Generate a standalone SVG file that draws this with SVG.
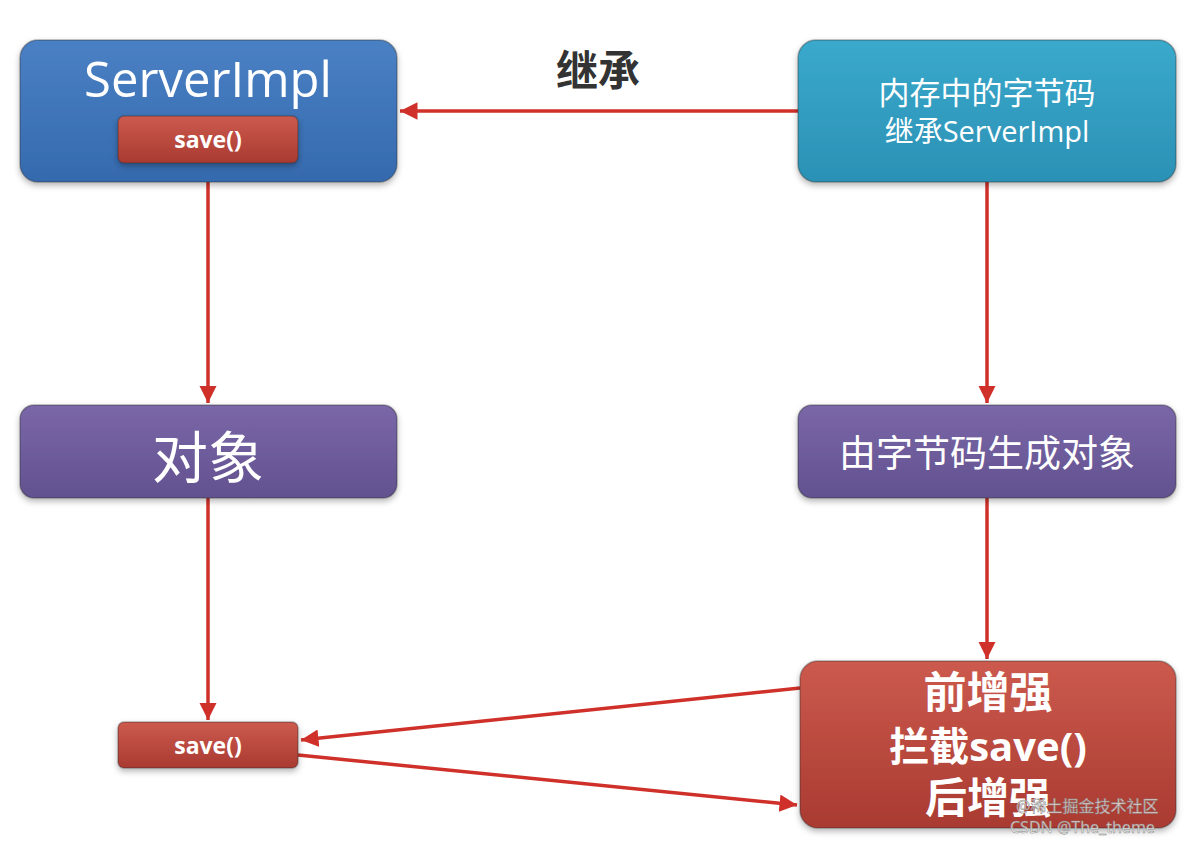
<svg xmlns="http://www.w3.org/2000/svg" width="1199" height="843" viewBox="0 0 1199 843">
<defs>
<linearGradient id="gBlue" x1="0" y1="0" x2="0" y2="1"><stop offset="0" stop-color="#4a80c4"/><stop offset="1" stop-color="#356aae"/></linearGradient>
<linearGradient id="gTeal" x1="0" y1="0" x2="0" y2="1"><stop offset="0" stop-color="#3aa9cc"/><stop offset="1" stop-color="#2b91b5"/></linearGradient>
<linearGradient id="gPurple" x1="0" y1="0" x2="0" y2="1"><stop offset="0" stop-color="#7a67a8"/><stop offset="1" stop-color="#62518f"/></linearGradient>
<linearGradient id="gRed" x1="0" y1="0" x2="0" y2="1"><stop offset="0" stop-color="#cc5a4e"/><stop offset="1" stop-color="#a93a31"/></linearGradient>
<filter id="sh" x="-10%" y="-10%" width="120%" height="130%"><feDropShadow dx="0" dy="3" stdDeviation="3" flood-color="#000" flood-opacity="0.3"/></filter>
<marker id="ah" viewBox="0 0 10 10" refX="10" refY="5" markerWidth="5" markerHeight="5" orient="auto" markerUnits="strokeWidth"><path d="M0,0 L10,5 L0,10 z" fill="#d0302a"/></marker>
</defs>
<style>
.box{stroke:#2a2a2a;stroke-opacity:0.35;stroke-width:1.5;filter:url(#sh)}
.t{fill:#fff;text-anchor:middle;font-family:"Open Sans","Noto Sans","Noto Sans CJK SC",sans-serif}
.b{font-weight:bold}
.c{fill:none;stroke:#d0302a;stroke-width:3.5;marker-end:url(#ah)}
</style>
<rect width="1199" height="843" fill="#fff"/>
<g id="connectors">
<line class="c" x1="798" y1="111" x2="400" y2="111"/>
<line class="c" x1="208" y1="182" x2="208" y2="403"/>
<line class="c" x1="987" y1="182" x2="987" y2="403"/>
<line class="c" x1="208" y1="498" x2="208" y2="720"/>
<line class="c" x1="987" y1="498" x2="987" y2="659"/>
<line class="c" x1="800" y1="688" x2="301" y2="740"/>
<line class="c" x1="298" y1="755" x2="797" y2="805"/>
</g>
<g id="label-inherit"><text x="598" y="86" text-anchor="middle" font-family="'Noto Sans CJK SC',sans-serif" font-weight="bold" font-size="42" fill="#333">继承</text></g>
<g id="serverimpl">
<rect class="box" x="20" y="40" width="377" height="142" rx="18" fill="url(#gBlue)"/>
<text class="t" x="208" y="97" font-size="49">ServerImpl</text>
<rect class="box" x="118" y="116" width="180" height="47" rx="6" fill="url(#gRed)"/>
<text class="t b" x="208" y="148" font-size="23">save()</text>
</g>
<g id="bytecode">
<rect class="box" x="798" y="40" width="378" height="142" rx="18" fill="url(#gTeal)"/>
<text class="t" x="987" y="104" font-size="31">内存中的字节码</text>
<text class="t" x="987" y="142" font-size="29">继承ServerImpl</text>
</g>
<g id="object">
<rect class="box" x="20" y="405" width="377" height="93" rx="14" fill="url(#gPurple)"/>
<text class="t" x="208" y="478" font-size="56">对象</text>
</g>
<g id="genobject">
<rect class="box" x="798" y="405" width="378" height="93" rx="14" fill="url(#gPurple)"/>
<text class="t" x="987" y="467" font-size="37">由字节码生成对象</text>
</g>
<g id="save2">
<rect class="box" x="118" y="722" width="180" height="46" rx="6" fill="url(#gRed)"/>
<text class="t b" x="208" y="754" font-size="23">save()</text>
</g>
<g id="enhance">
<rect class="box" x="800" y="661" width="376" height="167" rx="18" fill="url(#gRed)"/>
<text class="t b" x="988" y="708" font-size="43">前增强</text>
<text class="t b" x="988" y="761" font-size="40">拦截save()</text>
<text class="t b" x="988" y="813" font-size="42">后增强</text>
</g>
<g id="watermark" font-family="'Noto Sans','Noto Sans CJK SC',sans-serif" font-size="16" fill="#ffffff" fill-opacity="0.75" stroke="#888" stroke-width="0.5">
<text x="1016" y="812">@稀土掘金技术社区</text>
<text x="1010" y="833">CSDN @The_theme</text>
</g>
</svg>
